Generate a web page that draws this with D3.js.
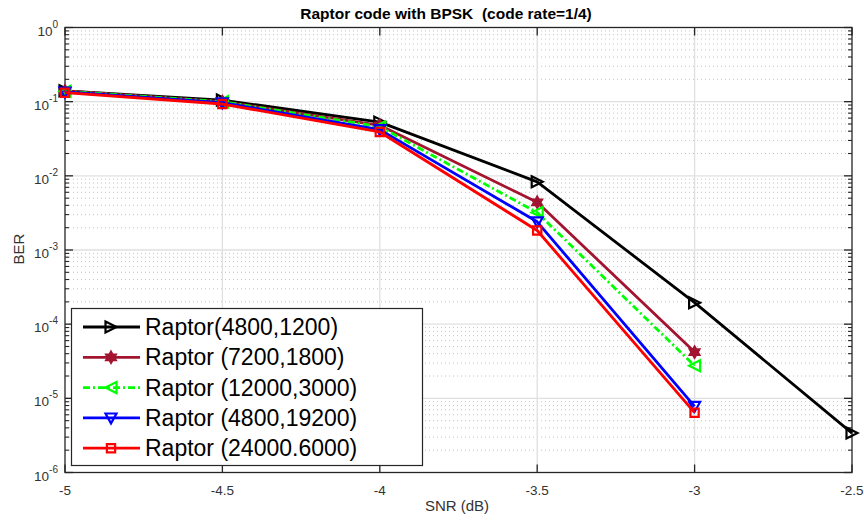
<!DOCTYPE html>
<html><head><meta charset="utf-8">
<script src="https://cdn.jsdelivr.net/npm/d3@7"></script>
<style>body{margin:0;background:#fff}svg{display:block;font-family:Arial,"Liberation Sans",Helvetica,sans-serif}</style>
</head><body><svg id="c" width="864" height="521"></svg>
<script>
const snr = [-5, -4.5, -4, -3.5, -3, -2.5];
const xTicks = [-5, -4.5, -4, -3.5, -3, -2.5];
const yTickExps = [0, -1, -2, -3, -4, -5, -6];
const names = ["Raptor(4800,1200)", "Raptor (7200,1800)", "Raptor (12000,3000)", "Raptor (4800,19200)", "Raptor (24000.6000)"];
const ber1 = [0.14, 0.105, 0.053, 0.0083, 1.95e-4, 3.4e-6];
const ber2 = [0.14, 0.1, 0.048, 0.0044, 4.2e-5];
const ber3 = [0.138, 0.1, 0.046, 0.0032, 2.75e-5];
const ber4 = [0.135, 0.097, 0.042, 0.0024, 7.8e-6];
const ber5 = [0.132, 0.093, 0.039, 0.00183, 6.4e-6];
const colors = ["#000000", "#a2142f", "#00ff00", "#0000ff", "#ff0000"];
const markers = ["triRight", "hexagram", "triLeft", "triDown", "square"];
const dashes = [null, null, "7,3,2,3", null, null];
const seriesVals = [ber1, ber2, ber3, ber4, ber5];

const svg = d3.select("#c");
const L = 65, R = 852, T = 27.5, B = 472.5;
const x = d3.scaleLinear().domain([-5, -2.5]).range([L, R]);
const y = d3.scaleLog().domain([1, 1e-6]).range([T, B]);

// grid minor
const minor = [];
for (let e = -6; e < 0; e++) for (let k = 2; k <= 9; k++) minor.push(k * Math.pow(10, e));
const g = svg.append("g");
g.selectAll(".mg").data(minor).join("line")
  .attr("x1", L).attr("x2", R).attr("y1", d => y(d)).attr("y2", d => y(d))
  .attr("stroke", "#c4c4c4").attr("stroke-width", 1).attr("stroke-dasharray", "1,3");
g.selectAll(".Mg").data(yTickExps.slice(1, -1)).join("line")
  .attr("x1", L).attr("x2", R).attr("y1", d => y(Math.pow(10, d))).attr("y2", d => y(Math.pow(10, d)))
  .attr("stroke", "#e0e0e0").attr("stroke-width", 1.3);
g.selectAll(".vg").data(xTicks.slice(1, -1)).join("line")
  .attr("y1", T).attr("y2", B).attr("x1", d => x(d)).attr("x2", d => x(d))
  .attr("stroke", "#e0e0e0").attr("stroke-width", 1.3);

// box & ticks
const ax = svg.append("g").attr("stroke", "#262626");
ax.append("rect").attr("x", L).attr("y", T).attr("width", R - L).attr("height", B - T)
  .attr("fill", "none").attr("stroke-width", 1.3);
xTicks.forEach(v => {
  ax.append("line").attr("x1", x(v)).attr("x2", x(v)).attr("y1", B).attr("y2", B - 8).attr("stroke-width", 1.3);
  ax.append("line").attr("x1", x(v)).attr("x2", x(v)).attr("y1", T).attr("y2", T + 8).attr("stroke-width", 1.3);
});
yTickExps.forEach(e => {
  const yy = y(Math.pow(10, e));
  ax.append("line").attr("x1", L).attr("x2", L + 8).attr("y1", yy).attr("y2", yy).attr("stroke-width", 1.3);
  ax.append("line").attr("x1", R).attr("x2", R - 8).attr("y1", yy).attr("y2", yy).attr("stroke-width", 1.3);
});
minor.forEach(v => {
  const yy = y(v);
  ax.append("line").attr("x1", L).attr("x2", L + 4).attr("y1", yy).attr("y2", yy).attr("stroke-width", 1.1);
  ax.append("line").attr("x1", R).attr("x2", R - 4).attr("y1", yy).attr("y2", yy).attr("stroke-width", 1.1);
});

// tick labels
svg.append("g").selectAll("text").data(xTicks).join("text")
  .attr("x", d => x(d)).attr("y", 495).attr("text-anchor", "middle")
  .attr("font-size", 13.5).attr("fill", "#333").text(d => String(d));
const yl = svg.append("g").selectAll("text").data(yTickExps).join("text")
  .attr("x", 58).attr("y", d => y(Math.pow(10, d)) + 8).attr("text-anchor", "end")
  .attr("font-size", 13.5).attr("fill", "#333");
yl.append("tspan").text("10");
yl.append("tspan").attr("dy", -8).attr("font-size", 10).text(d => d === 0 ? "0" : String(d));

// labels
svg.append("text").attr("x", 446).attr("y", 19).attr("text-anchor", "middle")
  .attr("font-size", 15.5).attr("font-weight", "bold").attr("fill", "#000")
  .text("Raptor code with BPSK\u00a0\u00a0(code rate=1/4)");
svg.append("text").attr("x", 457).attr("y", 511).attr("text-anchor", "middle")
  .attr("font-size", 15).attr("fill", "#333").text("SNR (dB)");
svg.append("text").attr("transform", "translate(24,249) rotate(-90)").attr("text-anchor", "middle")
  .attr("font-size", 15).attr("fill", "#333").text("BER");

// markers
function markerPath(t, s) {
  switch (t) {
    case "triRight": return `M${-s},${-s}L${s},0L${-s},${s}Z`;
    case "triLeft": return `M${s},${-s}L${-s},0L${s},${s}Z`;
    case "triDown": return `M${-s},${-s * 0.8}L${s},${-s * 0.8}L0,${s}Z`;
    case "square": return `M${-s * 0.75},${-s * 0.75}H${s * 0.75}V${s * 0.75}H${-s * 0.75}Z`;
    case "hexagram": {
      const p = (r, a0) => [0, 1, 2].map(i => { const a = a0 + i * 2 * Math.PI / 3; return [r * Math.cos(a), r * Math.sin(a)]; });
      const t1 = p(s, -Math.PI / 2), t2 = p(s, Math.PI / 2);
      return "M" + t1.join("L") + "Z" + "M" + t2.join("L") + "Z";
    }
  }
}

const line = d3.line().x(d => x(d[0])).y(d => y(d[1]));
seriesVals.forEach((vals, i) => {
  const pts = vals.map((v, j) => [snr[j], v]);
  const sg = svg.append("g");
  sg.append("path").attr("d", line(pts)).attr("fill", "none").attr("stroke", colors[i])
    .attr("stroke-width", 2.8).attr("stroke-dasharray", dashes[i]).attr("stroke-linejoin", "round");
  sg.selectAll("path.m").data(pts).join("path").attr("class", "m")
    .attr("transform", d => `translate(${x(d[0])},${y(d[1])})`)
    .attr("d", markerPath(markers[i], 5.5)).attr("fill", markers[i] === "hexagram" ? colors[i] : "none")
    .attr("stroke", colors[i]).attr("stroke-width", 2.2);
});

// legend
const lg = svg.append("g");
lg.append("rect").attr("x", 71.5).attr("y", 308.5).attr("width", 351).attr("height", 157)
  .attr("fill", "#fff").attr("stroke", "#262626").attr("stroke-width", 1.2);
names.forEach((n, i) => {
  const yy = 327 + i * 30.3;
  lg.append("line").attr("x1", 83).attr("x2", 140).attr("y1", yy).attr("y2", yy)
    .attr("stroke", colors[i]).attr("stroke-width", 2.8).attr("stroke-dasharray", dashes[i]);
  lg.append("path").attr("transform", `translate(111,${yy})`).attr("d", markerPath(markers[i], 5.5))
    .attr("fill", markers[i] === "hexagram" ? colors[i] : "none").attr("stroke", colors[i]).attr("stroke-width", 2.2);
  lg.append("text").attr("x", 145).attr("y", yy + 8).attr("font-size", 23).attr("fill", "#000").text(n);
});
</script></body></html>
